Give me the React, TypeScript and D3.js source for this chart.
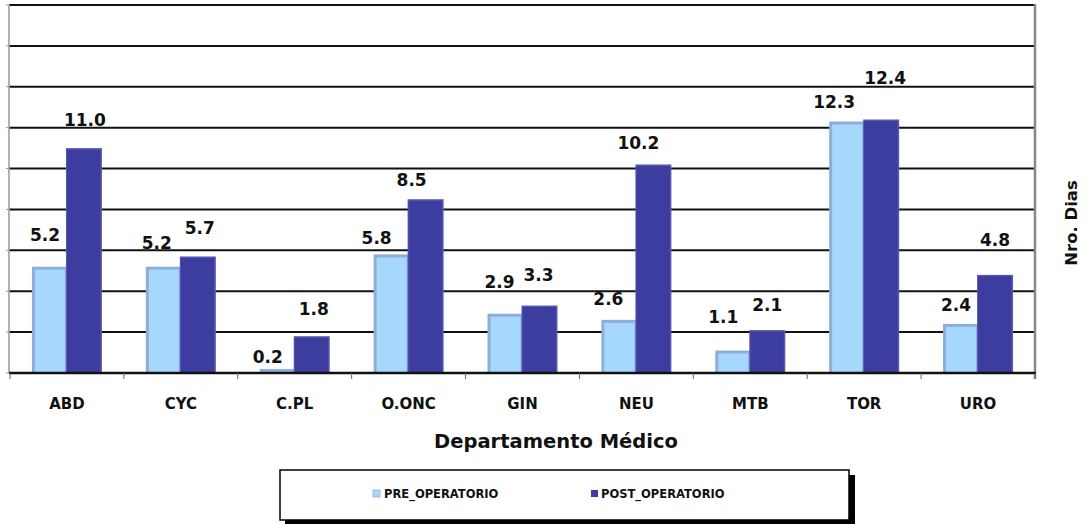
import React from "react";
import * as d3 from "d3";

const categories = ["ABD", "CYC", "C.PL", "O.ONC", "GIN", "NEU", "MTB", "TOR", "URO"];
const preOperatorio = [5.2, 5.2, 0.2, 5.8, 2.9, 2.6, 1.1, 12.3, 2.4];
const postOperatorio = [11.0, 5.7, 1.8, 8.5, 3.3, 10.2, 2.1, 12.4, 4.8];
const seriesNames = ["PRE_OPERATORIO", "POST_OPERATORIO"];
const yTicks = [0, 2, 4, 6, 8, 10, 12, 14, 16, 18];

// manual label nudges (px) as in the original chart
const preLabelDx = [-5, -7, -10, -15, -6, -11, -10, -13, -5];
const preLabelDy = [32, 24, 12, 16, 32, 21, 34, 20, 19];
const postLabelDx = [1, 2, 2, -14, -1, -15, 0, 4, 0];
const postLabelDy = [28, 28, 27, 19, 31, 21, 25, 41, 35];

const W = 1087;
const H = 524;
const FONT = "'DejaVu Sans', Verdana, sans-serif";

export default function App() {
  const x0 = d3.scaleBand<string>().domain(categories).range([10, 1035]).padding(0);
  const y = d3.scaleLinear().domain([0, 18]).range([373, 5]);
  const x1 = d3.scaleBand<string>().domain(seriesNames).range([-35, 35]).padding(0);
  const barW = 36;
  const colors = { pre: "#A6D8FE", preEdge: "#8EAEDA", post: "#3D3D9F", postEdge: "#5858B4" };

  const center = (c: string) => (x0(c) as number) + x0.bandwidth() / 2;

  return (
    <svg
      width={W}
      height={H}
      style={{ position: "absolute", left: 0, top: 0, background: "#fff" }}
      fontFamily={FONT}
    >
      {/* gridlines */}
      {yTicks.slice(1).map((t) => (
        <line key={"g" + t} x1={9} x2={1035} y1={y(t)} y2={y(t)} stroke="#111" strokeWidth={2} />
      ))}
      {/* left axis */}
      <line x1={9} x2={9} y1={y(18)} y2={y(0)} stroke="#999" strokeWidth={1.5} />
      {yTicks.map((t) => (
        <line key={"lt" + t} x1={6} x2={10} y1={y(t)} y2={y(t)} stroke="#999" strokeWidth={1} />
      ))}
      {/* right border */}
      <line x1={1035} x2={1035} y1={y(18) - 1} y2={y(0) + 6} stroke="#888" strokeWidth={2.5} />

      {/* bars */}
      {categories.map((c, i) => {
        const cx = center(c);
        const xPre = cx + (x1(seriesNames[0]) as number);
        const xPost = cx + (x1(seriesNames[1]) as number) - 1;
        const yPre = y(preOperatorio[i]);
        const yPost = y(postOperatorio[i]);
        return (
          <g key={c}>
            <rect x={xPre} y={yPre} width={barW} height={y(0) - yPre} fill={colors.preEdge} />
            <rect
              x={xPre + 3}
              y={yPre + 3}
              width={barW - 6}
              height={Math.max(0, y(0) - yPre - 3)}
              fill={colors.pre}
            />
            <rect x={xPost} y={yPost} width={barW} height={y(0) - yPost} fill={colors.postEdge} />
            <rect
              x={xPost + 1}
              y={yPost + 1.5}
              width={barW - 2.5}
              height={y(0) - yPost - 1.5}
              fill={colors.post}
            />
          </g>
        );
      })}

      {/* baseline */}
      <line x1={9} x2={1036} y1={y(0)} y2={y(0)} stroke="#111" strokeWidth={2.5} />
      {categories.concat(["end"]).map((c, i) => {
        const xx = 10 + i * x0.bandwidth();
        return <line key={"bt" + i} x1={xx} x2={xx} y1={y(0)} y2={y(0) + 6} stroke="#666" strokeWidth={1} />;
      })}

      {/* data labels */}
      {categories.map((c, i) => {
        const cx = center(c);
        const pc = cx + (x1(seriesNames[0]) as number) + barW / 2;
        const qc = cx + (x1(seriesNames[1]) as number) - 1 + barW / 2;
        return (
          <g key={"lab" + c} fontSize={17} fontWeight="bold" fill="#111" textAnchor="middle">
            <text x={pc + preLabelDx[i]} y={y(preOperatorio[i]) - preLabelDy[i] + 6}>
              {d3.format(".1f")(preOperatorio[i])}
            </text>
            <text x={qc + postLabelDx[i]} y={y(postOperatorio[i]) - postLabelDy[i] + 6}>
              {d3.format(".1f")(postOperatorio[i])}
            </text>
          </g>
        );
      })}

      {/* category labels */}
      {categories.map((c) => (
        <text
          key={"cl" + c}
          x={center(c)}
          y={409}
          textAnchor="middle"
          fontSize={15}
          fontWeight="bold"
          fill="#111"
          transform={`translate(0,409) scale(1,1.1) translate(0,-409)`}
        >
          {c}
        </text>
      ))}

      {/* axis titles */}
      <text x={556} y={448} textAnchor="middle" fontSize={19.5} fontWeight="bold" fill="#111">
        Departamento Médico
      </text>
      <text
        transform="translate(1077,223) rotate(-90)"
        textAnchor="middle"
        fontSize={16.5}
        fontWeight="bold"
        fill="#111"
      >
        Nro. Dias
      </text>

      {/* legend */}
      <rect x={285} y={475} width={570} height={52} fill="#000" />
      <rect x={280} y={470} width={569} height={50} fill="#fff" stroke="#000" strokeWidth={1.5} />
      <rect x={373} y={490} width={7} height={7} fill={colors.pre} stroke={colors.preEdge} strokeWidth={0.8} />
      <text x={384} y={498} fontSize={11.5} fontWeight="bold" fill="#111">
        {seriesNames[0]}
      </text>
      <rect x={591} y={490} width={7} height={7} fill={colors.post} />
      <text x={601} y={498} fontSize={11.5} fontWeight="bold" fill="#111">
        {seriesNames[1]}
      </text>
    </svg>
  );
}
